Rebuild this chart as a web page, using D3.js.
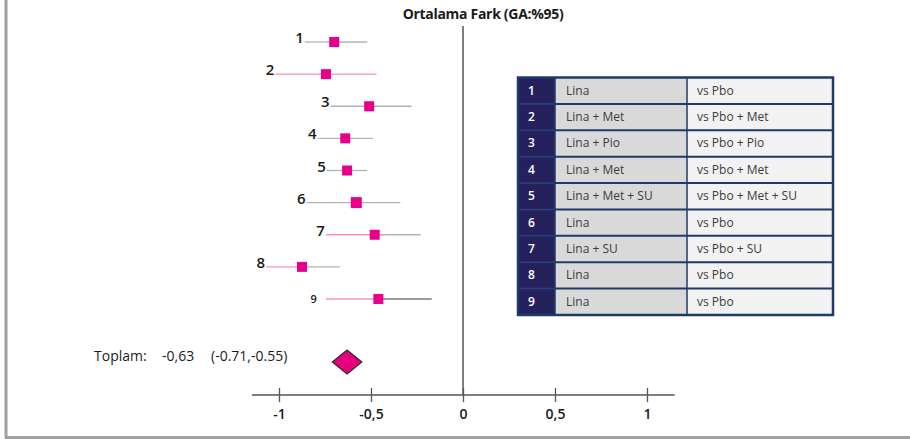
<!DOCTYPE html>
<html>
<head>
<meta charset="utf-8">
<script src="https://cdn.jsdelivr.net/npm/d3@7"></script>
<style>
  html, body { margin: 0; padding: 0; background: #fff; }
  svg { display: block; font-family: "Open Sans", "Noto Sans", sans-serif; }
</style>
</head>
<body>
<svg id="chart" width="910" height="439"></svg>
<script>
// Study rows of the forest plot
const studies = ["1", "2", "3", "4", "5", "6", "7", "8", "9"];
const means   = [-0.70, -0.745, -0.51, -0.64, -0.63, -0.58, -0.48, -0.875, -0.46];
const lower   = [-0.86, -1.02, -0.72, -0.79, -0.74, -0.85, -0.745, -1.07, -0.745];
const upper   = [-0.52, -0.47, -0.28, -0.49, -0.52, -0.34, -0.23, -0.67, -0.17];

// Comparison table
const treatments = ["Lina", "Lina + Met", "Lina + Pio", "Lina + Met", "Lina + Met + SU",
                    "Lina", "Lina + SU", "Lina", "Lina"];
const comparators = ["vs Pbo", "vs Pbo + Met", "vs Pbo + Pio", "vs Pbo + Met", "vs Pbo + Met + SU",
                     "vs Pbo", "vs Pbo + SU", "vs Pbo", "vs Pbo"];

// Pooled estimate
const pooledMean = -0.63;
const pooledLower = -0.71;
const pooledUpper = -0.55;
const pooledLabel = ["Toplam:", "-0,63", "(-0.71,-0.55)"];

const tickValues = [-1, -0.5, 0, 0.5, 1];
const title = "Ortalama Fark (GA:%95)";

// Whisker colouring: left part / right part of each interval
const GRAY = "#b3b3b3", PINK = "#f590c4", DARK = "#7a7a7a";
const whiskerStyle = [
  { left: GRAY, right: GRAY }, { left: PINK, right: PINK }, { left: GRAY, right: GRAY },
  { left: GRAY, right: GRAY }, { left: GRAY, right: GRAY }, { left: GRAY, right: GRAY },
  { left: PINK, right: GRAY, splitOffset: 0.065 }, { left: PINK, right: GRAY }, { left: PINK, right: DARK }
];

const svg = d3.select("#chart");

// Frame (left and bottom edges)
svg.append("line").attr("x1", 6).attr("x2", 6).attr("y1", 0).attr("y2", 438)
  .attr("stroke", "#a0a0a0").attr("stroke-width", 3);
svg.append("line").attr("x1", 5).attr("x2", 910).attr("y1", 437.5).attr("y2", 437.5)
  .attr("stroke", "#a0a0a0").attr("stroke-width", 3);

const x = d3.scaleLinear().domain([-1, 1]).range([279, 647]);
const y = d3.scalePoint().domain(studies).range([42, 299]);
const axisY = 395;

// Title
svg.append("text").attr("x", 483).attr("y", 19).attr("text-anchor", "middle")
  .attr("font-size", 14).attr("font-weight", 700).attr("fill", "#1a1a1a")
  .attr("letter-spacing", "-0.3").text(title);

// Zero reference line
svg.append("line").attr("x1", x(0)).attr("x2", x(0)).attr("y1", 26).attr("y2", axisY)
  .attr("stroke", "#555").attr("stroke-width", 1.5);

// Axis
const axis = d3.axisBottom(x).tickValues(tickValues).tickSizeOuter(0)
  .tickFormat(d => String(d).replace(".", ","));
const gAxis = svg.append("g").attr("transform", `translate(0,${axisY})`).call(axis);
gAxis.select(".domain").remove();
gAxis.insert("line", ":first-child").attr("x1", x(-1.147)).attr("x2", x(1.15))
  .attr("stroke", "#555").attr("stroke-width", 1.5);
gAxis.selectAll(".tick line").attr("y1", -7).attr("y2", 7).attr("stroke", "#555").attr("stroke-width", 1.3);
gAxis.selectAll(".tick text").attr("y", 14).attr("font-size", 14).attr("font-weight", 600)
  .attr("fill", "#1a1a1a").attr("font-family", "'Open Sans', sans-serif");

// Study rows
const rows = svg.append("g");
studies.forEach((s, i) => {
  const yy = y(s);
  const st = whiskerStyle[i];
  const split = means[i] + (st.splitOffset || 0);
  rows.append("line").attr("x1", x(lower[i])).attr("x2", x(split)).attr("y1", yy).attr("y2", yy)
    .attr("stroke", st.left).attr("stroke-width", 1.3);
  rows.append("line").attr("x1", x(split)).attr("x2", x(upper[i])).attr("y1", yy).attr("y2", yy)
    .attr("stroke", st.right).attr("stroke-width", 1.3);
  const sz = i === 5 ? 11 : 10;
  rows.append("rect").attr("x", x(means[i]) - sz / 2).attr("y", yy - sz / 2)
    .attr("width", sz).attr("height", sz).attr("fill", "#e8008a");
  const small = i === 8;
  rows.append("text").attr("x", x(lower[i]) - (small ? 9 : 1)).attr("y", yy + (small ? 4 : 1))
    .attr("text-anchor", "end").attr("font-size", small ? 11 : 15).attr("font-weight", 600)
    .attr("fill", "#1a1a1a").text(s);
});

// Pooled diamond
const dy = 362, dh = 12;
svg.append("path")
  .attr("d", `M${x(pooledLower)},${dy} L${x(pooledMean)},${dy - dh} L${x(pooledUpper)},${dy} L${x(pooledMean)},${dy + dh} Z`)
  .attr("fill", "#e6007e").attr("stroke", "#2a2a2a").attr("stroke-width", 1.2);

const pooledX = [94, 162, 211];
pooledLabel.forEach((t, i) => {
  svg.append("text").attr("x", pooledX[i]).attr("y", 361).attr("font-size", 14)
    .attr("fill", "#1a1a1a").text(t);
});

// Comparison table
const tbl = svg.append("g");
const tx = [518, 555, 687, 833];
const rowH = (315 - 77.5) / studies.length;
const ty = d3.scaleBand().domain(studies).range([77.5, 315]);
studies.forEach((s, i) => {
  const top = ty(s);
  tbl.append("rect").attr("x", tx[0]).attr("y", top).attr("width", tx[1] - tx[0]).attr("height", rowH)
    .attr("fill", "#24215c");
  tbl.append("rect").attr("x", tx[1]).attr("y", top).attr("width", tx[2] - tx[1]).attr("height", rowH)
    .attr("fill", "#d9d9d9");
  tbl.append("rect").attr("x", tx[2]).attr("y", top).attr("width", tx[3] - tx[2]).attr("height", rowH)
    .attr("fill", "#f2f2f2");
  tbl.append("text").attr("x", 528).attr("y", top + rowH / 2 + 4).attr("font-size", 12)
    .attr("font-weight", 600).attr("fill", "#fff").text(s);
  tbl.append("text").attr("x", 566).attr("y", top + rowH / 2 + 4).attr("font-size", 12)
    .attr("fill", "#3c3c3c").text(treatments[i]);
  tbl.append("text").attr("x", 697).attr("y", top + rowH / 2 + 4).attr("font-size", 12)
    .attr("fill", "#3c3c3c").text(comparators[i]);
});
// row separators
studies.slice(1).forEach(s => {
  tbl.append("line").attr("x1", tx[0]).attr("x2", tx[1]).attr("y1", ty(s)).attr("y2", ty(s))
    .attr("stroke", "#2c3f78").attr("stroke-width", 1.5);
  tbl.append("line").attr("x1", tx[1]).attr("x2", tx[3]).attr("y1", ty(s)).attr("y2", ty(s))
    .attr("stroke", "#1f3a66").attr("stroke-width", 2);
});
// column separators and outer border
[tx[1], tx[2]].forEach(cx => {
  tbl.append("line").attr("x1", cx).attr("x2", cx).attr("y1", 77.5).attr("y2", 315)
    .attr("stroke", "#1f3a66").attr("stroke-width", 1.5);
});
tbl.append("rect").attr("x", tx[0]).attr("y", 77.5).attr("width", tx[3] - tx[0]).attr("height", 315 - 77.5)
  .attr("fill", "none").attr("stroke", "#1f3a66").attr("stroke-width", 2.5);
</script>
</body>
</html>
